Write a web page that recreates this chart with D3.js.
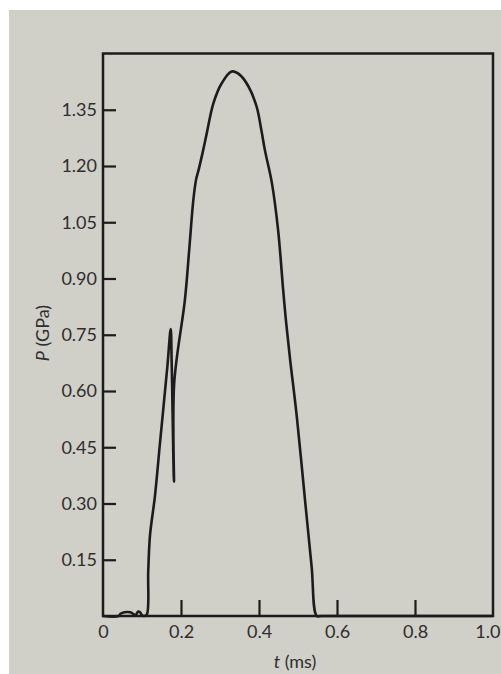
<!DOCTYPE html>
<html>
<head>
<meta charset="utf-8">
<script src="https://cdn.jsdelivr.net/npm/d3@7"></script>
<style>
  html, body { margin: 0; padding: 0; background: #ffffff; }
  svg { display: block; }
</style>
</head>
<body>
<svg id="chart" width="501" height="674"></svg>
<script>
// ---- data ----
const timeMs = [
  0, 0.04, 0.045, 0.055, 0.07, 0.08, 0.085, 0.09, 0.095, 0.1, 0.104, 0.112,
  0.116, 0.1205, 0.133, 0.146, 0.165, 0.1736, 0.176, 0.182, 0.1825, 0.21,
  0.221, 0.2316, 0.2385, 0.245, 0.257, 0.266, 0.283, 0.304, 0.33, 0.351,
  0.373, 0.394, 0.406, 0.415, 0.433, 0.449, 0.462, 0.469, 0.479, 0.497,
  0.518, 0.535, 0.548, 0.56, 0.8, 1.0
];
const pressureGPa = [
  0, 0, 0.006, 0.01, 0.01, 0.004, 0.004, 0.012, 0.01, 0.002, 0, 0.003,
  0.12, 0.215, 0.318, 0.46, 0.665, 0.765, 0.68, 0.358, 0.62, 0.843,
  0.976, 1.109, 1.163, 1.189, 1.243, 1.287, 1.367, 1.42, 1.452, 1.443,
  1.412, 1.358, 1.296, 1.243, 1.155, 1.029, 0.869, 0.789, 0.691, 0.531,
  0.309, 0.131, 0, 0, 0, 0
];
const xTicks = [0, 0.2, 0.4, 0.6, 0.8, 1.0];
const xTickLabels = ["0", "0.2", "0.4", "0.6", "0.8", "1.0"];
const yTicks = [0.15, 0.30, 0.45, 0.60, 0.75, 0.90, 1.05, 1.20, 1.35];
const yTickLabels = ["0.15", "0.30", "0.45", "0.60", "0.75", "0.90", "1.05", "1.20", "1.35"];
const xDomain = [0, 1.0];
const yDomain = [0, 1.5];

// ---- drawing ----
const svg = d3.select("#chart");
const ink = "#1c1c1c";
const textInk = "#2e2e2e";
const font = "Lato, 'Open Sans', sans-serif";

// paper
svg.append("rect").attr("x", 9).attr("y", 10).attr("width", 492).attr("height", 664)
  .attr("fill", "#d0cfc8");

const x = d3.scaleLinear().domain(xDomain).range([103, 493]);
const y = d3.scaleLinear().domain(yDomain).range([616, 53.5]);

// x axis
const xAxis = d3.axisBottom(x)
  .tickValues(xTicks)
  .tickFormat((d, i) => xTickLabels[i])
  .tickSizeInner(-16).tickSizeOuter(0).tickPadding(9);
const gx = svg.append("g").attr("transform", `translate(0,${y(0)})`).call(xAxis);
gx.select(".domain").remove();
gx.selectAll(".tick line")
  .attr("stroke", ink).attr("stroke-width", 2.2)
  .attr("display", d => (d === 0 || d === 1.0) ? "none" : null);
gx.selectAll(".tick text")
  .attr("fill", textInk).attr("font-family", font).attr("font-size", 18);
// keep the last label inside the window edge
gx.selectAll(".tick text").filter(d => d === 1.0)
  .attr("text-anchor", "end").attr("x", 500 - x(1.0));

// y axis
const yAxis = d3.axisLeft(y)
  .tickValues(yTicks)
  .tickFormat((d, i) => yTickLabels[i])
  .tickSizeInner(-13).tickSizeOuter(0).tickPadding(6);
const gy = svg.append("g").attr("transform", `translate(${x(0)},0)`).call(yAxis);
gy.select(".domain").remove();
gy.selectAll(".tick line").attr("stroke", ink).attr("stroke-width", 2.2);
gy.selectAll(".tick text")
  .attr("fill", textInk).attr("font-family", font).attr("font-size", 18);

// frame
svg.append("rect")
  .attr("x", x(xDomain[0])).attr("y", y(yDomain[1]))
  .attr("width", x(xDomain[1]) - x(xDomain[0]))
  .attr("height", y(yDomain[0]) - y(yDomain[1]))
  .attr("fill", "none").attr("stroke", ink).attr("stroke-width", 2.5);

// curve
const pts = timeMs.map((t, i) => [t, pressureGPa[i]]);
const line = d3.line()
  .x(d => x(d[0])).y(d => y(d[1]))
  .curve(d3.curveCatmullRom.alpha(0.5));
svg.append("path").datum(pts)
  .attr("d", line)
  .attr("fill", "none").attr("stroke", ink)
  .attr("stroke-width", 2.6).attr("stroke-linejoin", "round");

// axis titles
svg.append("text")
  .attr("x", 0).attr("y", 0)
  .attr("transform", `translate(49,333) rotate(-90)`)
  .attr("text-anchor", "middle")
  .attr("fill", textInk).attr("font-family", font).attr("font-size", 18)
  .html('<tspan font-style="italic">P</tspan> (GPa)');

svg.append("text")
  .attr("x", 295).attr("y", 668)
  .attr("text-anchor", "middle")
  .attr("fill", textInk).attr("font-family", font).attr("font-size", 18)
  .html('<tspan font-style="italic">t</tspan> (ms)');
</script>
</body>
</html>
